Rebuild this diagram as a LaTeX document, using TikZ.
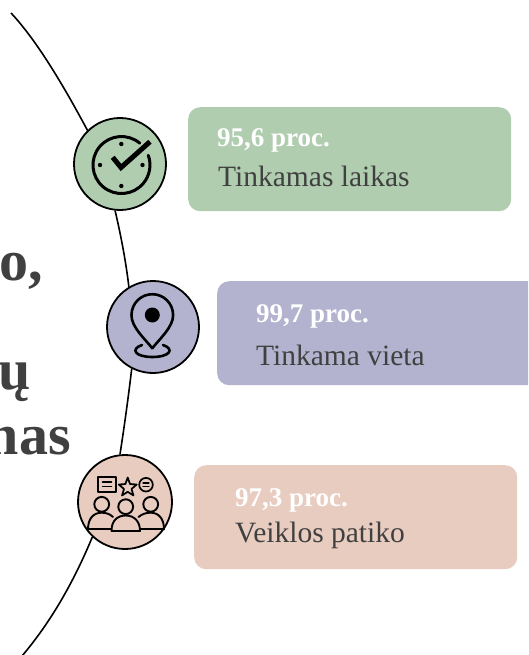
\documentclass[tikz,border=0pt]{standalone}
\usepackage{fontspec}
\setmainfont{Liberation Serif}
\definecolor{gr}{HTML}{B0CDAF}
\definecolor{pu}{HTML}{B3B3CF}
\definecolor{pk}{HTML}{E8CCC0}
\definecolor{tx}{HTML}{404040}
\tikzset{
 cardbox/.style={draw=none,rounded corners=12pt,inner sep=0pt,anchor=north west},
 dotc/.style={circle,draw=black,line width=1.8pt,minimum size=92pt,inner sep=0pt},
 headt/.style={anchor=base west,inner sep=0pt,text=white,font=\fontsize{27}{30}\selectfont\bfseries},
 subt/.style={anchor=base west,inner sep=0pt,text=tx,font=\fontsize{29.5}{32}\selectfont},
 bigt/.style={anchor=base east,inner sep=0pt,text=tx,font=\fontsize{58}{60}\selectfont\bfseries},
 ico/.style={line width=1.9pt,line join=round,line cap=round,draw=black},
 arcline/.style={line width=1.6pt,draw=black},
}
\begin{document}
\begin{tikzpicture}[x=1pt,y=-1pt]
\useasboundingbox (0,0) rectangle (528,655);
\clip (0,0) rectangle (528,655);
\fill[white] (0,0) rectangle (528,655);
% cards
\node[cardbox,fill=gr,minimum width=323pt,minimum height=104pt] (b1) at (188,107) {};
\node[cardbox,fill=pu,minimum width=340pt,minimum height=104pt] (b2) at (217,281) {};
\node[cardbox,fill=pk,minimum width=323pt,minimum height=104pt] (b3) at (194,465) {};
\node[headt] (h1) at (217,147) {95,6 proc.};
\node[subt] (s1) at (218,186) {Tinkamas laikas};
\node[headt] (h2) at (256,322) {99,7 proc.};
\node[subt] (s2) at (256,365) {Tinkama vieta};
\node[headt] (h3) at (235,506) {97,3 proc.};
\node[subt] (s3) at (235,542) {Veiklos patiko};
% big clipped text
\node[bigt] (t1) at (43,280) {o,};
\node[bigt] (t2) at (31,389) {ų};
\node[bigt] (t3) at (71,454) {nas};
% circles
\node[dotc,fill=gr] (c1) at (120,164) {};
\node[dotc,fill=pu] (c2) at (153,327) {};
\node[dotc,fill=pk,minimum size=94pt] (c3) at (125,502) {};
\coordinate (st) at (11,13);
\coordinate (en) at (22,656);
% arc
\draw[arcline] (st) .. controls (33.3,36.7) and (58.6,76.3) .. (c1.134);
\draw[arcline] (c1.264) .. controls (121.4,237.7) and (126.1,263) .. (c2.121);
\draw[arcline] (c2.243) .. controls (128.2,398.3) and (124.4,425.7) .. (c3.96);
\draw[arcline] (c3.227) .. controls (72.7,584.3) and (49.7,623.3) .. (en);
% clock
\draw[ico,line width=3pt] (139.8,143.2) arc (-50:-380:28.5);
\foreach \a/\b in {121.3/144,142.5/165,121.3/186,100/165} \fill (\a,\b) circle (2.2pt);
\draw[line width=5pt,line join=miter,line cap=butt] (112.7,157.3) -- (121,167.5) -- (150,141.7);
% pin
\fill (152.3,315) circle (7.5pt);
\draw[ico,line width=2.6pt] (152.3,348.3) .. controls (146,340) and (131,327) .. (131.5,315)
  arc (180:360:20.8) .. controls (173.5,327) and (158.5,340) .. (152.3,348.3);
\draw[ico,line width=2.6pt] (142,345) .. controls (130,349) and (135,357) .. (152.3,357)
  .. controls (170,357) and (175,349) .. (163,345);
% people
\draw[ico,line width=1.7pt] (98.3,477.3) rectangle (115.7,491.7);
\draw[ico,line width=1.5pt] (102.5,482) -- (111.5,482) (102.5,486.5) -- (111.5,486.5);
\draw[ico,line width=1.7pt] (127.7,477.5) -- (130,484) -- (136.7,484.5) -- (131.5,489) -- (133.5,495.5) -- (127.7,491.8) -- (122,495.5) -- (124,489) -- (118.8,484.5) -- (125.4,484) -- cycle;
\draw[ico,line width=1.7pt] (146,484.7) circle (6.8pt);
\draw[ico,line width=1.3pt] (143,483) -- (149,483) (143,486.5) -- (149,486.5);
\draw[ico] (101.7,504.3) circle (7.4pt) (125.7,506.7) circle (7.4pt) (150.7,504.3) circle (7.4pt);
\draw[ico] (88,529.3) .. controls (88,519) and (93,512.7) .. (101.7,512.7) .. controls (106,512.7) and (110,514) .. (113,517);
\draw[ico] (164,529.3) .. controls (164,519) and (159,512.7) .. (150.7,512.7) .. controls (146,512.7) and (142,514) .. (138.5,517);
\draw[ico] (88,529.3) -- (111.5,529.3) (140,529.3) -- (164,529.3);
\draw[ico] (111.5,531) .. controls (111.5,521) and (117,515.5) .. (125.7,515.5) .. controls (134,515.5) and (140,521) .. (140,531) -- cycle;
\end{tikzpicture}
\end{document}
